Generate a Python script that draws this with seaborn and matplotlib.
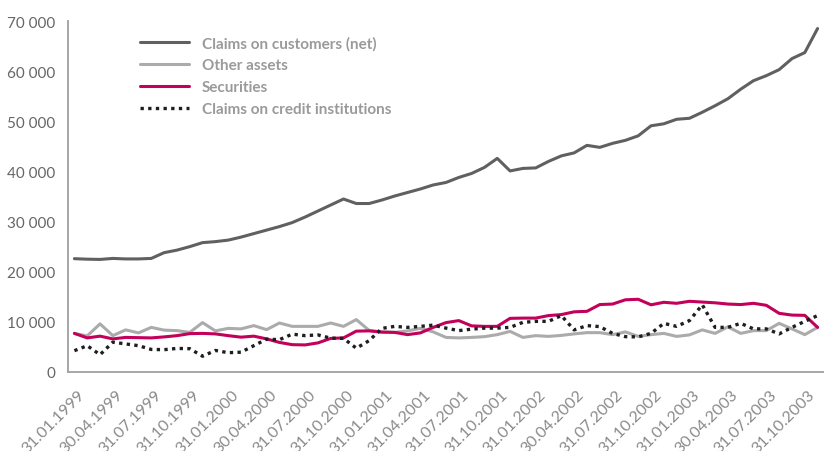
import numpy as np
import pandas as pd
import matplotlib
matplotlib.use("Agg")
import matplotlib.pyplot as plt
import matplotlib.transforms as mtransforms
from matplotlib.ticker import FuncFormatter
import seaborn as sns

# monthly values, Jan 1999 .. Nov 2003
customers = [22600, 22500, 22450, 22650, 22550, 22550, 22650, 23800, 24300, 25000,
             25800, 26000, 26300, 26900, 27600, 28300, 29000, 29800, 30900, 32100,
             33300, 34500, 33600, 33600, 34300, 35100, 35800, 36500, 37300, 37800,
             38800, 39600, 40800, 42600, 40100, 40600, 40700, 42000, 43100, 43700,
             45200, 44800, 45600, 46200, 47100, 49100, 49500, 50400, 50600, 51800,
             53100, 54500, 56400, 58100, 59100, 60300, 62500, 63700, 68500]
other_assets = [7700, 7200, 9600, 7250, 8400, 7800, 8900, 8350, 8250, 7900,
                9850, 8200, 8700, 8600, 9250, 8450, 9770, 9100, 9100, 9100,
                9770, 9100, 10450, 8300, 8000, 7900, 8200, 8700, 8000, 6900,
                6800, 6900, 7050, 7450, 8100, 6900, 7250, 7100, 7300, 7600,
                7850, 7850, 7450, 8000, 7100, 7450, 7700, 7100, 7400, 8400,
                7700, 9000, 7700, 8250, 8250, 9700, 8600, 7450, 8900]
securities = [7700, 6800, 7150, 6600, 6900, 6850, 6800, 7000, 7250, 7650,
              7700, 7600, 7250, 6950, 7150, 6600, 5900, 5450, 5400, 5800,
              6700, 6800, 8150, 8200, 7950, 7900, 7450, 7800, 8900, 9850,
              10250, 9200, 9100, 9100, 10700, 10750, 10750, 11250, 11450, 12000,
              12100, 13450, 13550, 14400, 14500, 13400, 13900, 13700, 14100, 13950,
              13800, 13550, 13450, 13700, 13300, 11700, 11350, 11300, 8900]
credit_inst = [4250, 5250, 3450, 5950, 5600, 5250, 4500, 4450, 4700, 4650,
               3150, 4300, 3850, 3950, 5250, 6550, 6450, 7550, 7250, 7400,
               6750, 6700, 4750, 6250, 8700, 9100, 8900, 9100, 9350, 8750,
               8250, 8550, 8750, 8750, 8900, 9900, 10100, 10100, 11250, 8400,
               9250, 9050, 7700, 7050, 7000, 7700, 9700, 9100, 10250, 13400,
               8900, 8900, 9700, 8600, 8600, 7600, 8900, 10100, 11250]

tick_labels = ["31.01.1999", "30.04.1999", "31.07.1999", "31.10.1999",
               "31.01.2000", "30.04.2000", "31.07.2000", "31.10.2000",
               "31.01.2001", "31.04.2001", "31.07.2001", "31.10.2001",
               "31.01.2002", "30.04.2002", "31.07.2002", "31.10.2002",
               "31.01.2003", "30.04.2003", "31.07.2003", "31.10.2003"]

df = pd.DataFrame({
    "month": np.arange(len(customers)),
    "customers": customers,
    "other": other_assets,
    "securities": securities,
    "credit": credit_inst,
})

sns.set_style("white")
plt.rcParams["font.family"] = ["Lato", "DejaVu Sans"]

fig = plt.figure(figsize=(8.24, 4.52), dpi=100)
ax = fig.add_axes([68 / 824, 79 / 452, 756 / 824, 351 / 452])

sns.lineplot(data=df, x="month", y="other", ax=ax, color="#ababab", linewidth=2.2,
             label="Other assets")
sns.lineplot(data=df, x="month", y="securities", ax=ax, color="#c3005a", linewidth=2.2,
             label="Securities")
sns.lineplot(data=df, x="month", y="credit", ax=ax, color="#1e1e1e", linewidth=2.4,
             linestyle=(0, (1.0, 1.3)), label="Claims on credit institutions")
sns.lineplot(data=df, x="month", y="customers", ax=ax, color="#606060", linewidth=2.2,
             label="Claims on customers (net)")

ax.set_xlim(-0.5, len(customers) - 1)
ax.set_ylim(0, 70000)
ax.set_xlabel("")
ax.set_ylabel("")

ax.set_xticks(np.arange(0, len(customers), 3))
ax.set_xticklabels(tick_labels, rotation=45, ha="right", va="center",
                   rotation_mode="anchor", fontsize=11.5, color="#8a8a8a")
ax.set_xticks(np.arange(-0.5, len(customers), 1), minor=True)
ax.tick_params(axis="x", which="major", length=0, pad=10)
ax.tick_params(axis="x", which="minor", direction="in", length=7, width=1, color="#a0a0a0")

# nudge the rotated labels right/down like the original
shift = mtransforms.ScaledTranslation(0.08, -0.06, fig.dpi_scale_trans)
for lbl in ax.get_xticklabels():
    lbl.set_transform(lbl.get_transform() + shift)

ax.set_yticks(np.arange(0, 70001, 10000))
ax.yaxis.set_major_formatter(FuncFormatter(lambda v, p: f"{int(v):,}".replace(",", " ")))
ax.tick_params(axis="y", direction="in", length=13, width=1, color="#a0a0a0", pad=9,
               labelsize=11, labelcolor="#666666")

for side in ["top", "right"]:
    ax.spines[side].set_visible(False)
for side in ["left", "bottom"]:
    ax.spines[side].set_color("#a0a0a0")
    ax.spines[side].set_linewidth(1.3)

handles, labels = ax.get_legend_handles_labels()
order = [3, 0, 1, 2]
leg = ax.legend([handles[i] for i in order], [labels[i] for i in order],
                loc="upper left", bbox_to_anchor=(140 / 824, 1 - 37 / 452),
                bbox_transform=fig.transFigure, frameon=False, borderpad=0,
                borderaxespad=0, handlelength=3.2, handletextpad=0.85,
                labelspacing=0.52, prop={"size": 11, "weight": "bold"})
for t in leg.get_texts():
    t.set_color("#9a9a9a")

fig.savefig("out.png", dpi=100)
